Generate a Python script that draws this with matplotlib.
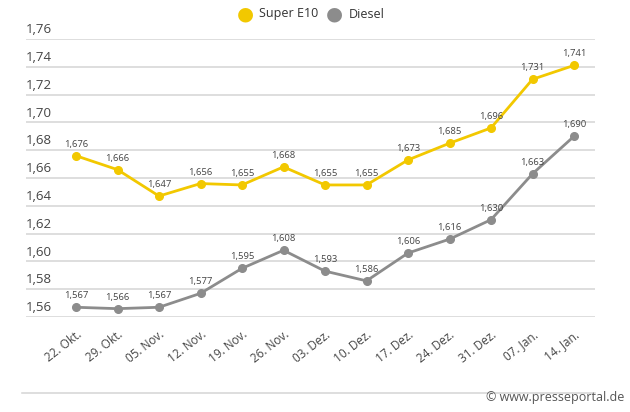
import matplotlib
matplotlib.use("Agg")
import matplotlib.pyplot as plt
from matplotlib.transforms import ScaledTranslation

plt.rcParams["font.family"] = ["Open Sans", "DejaVu Sans"]

DATES = ["22. Okt.", "29. Okt.", "05. Nov.", "12. Nov.", "19. Nov.", "26. Nov.",
         "03. Dez.", "10. Dez.", "17. Dez.", "24. Dez.", "31. Dez.", "07. Jan.", "14. Jan."]
SUPER_E10 = [1.676, 1.666, 1.647, 1.656, 1.655, 1.668, 1.655, 1.655, 1.673,
             1.685, 1.696, 1.731, 1.741]
DIESEL = [1.567, 1.566, 1.567, 1.577, 1.595, 1.608, 1.593, 1.586, 1.606,
          1.616, 1.630, 1.663, 1.690]
Y_TICKS = [1.56, 1.58, 1.60, 1.62, 1.64, 1.66, 1.68, 1.70, 1.72, 1.74, 1.76]

COL_E10 = "#F2C800"
COL_DIESEL = "#8C8C8C"
COL_GRID = "#D4D4D4"
COL_TEXT = "#444444"

W, H = 630, 412
fig = plt.figure(figsize=(W / 100, H / 100), dpi=100)
left, right, top, bottom = 26, 595, 39, 317
ax = fig.add_axes([left / W, (H - bottom) / H, (right - left) / W, (bottom - top) / H])

x = list(range(len(DATES)))
step = (574 - 76) / 12
ax.set_xlim(-(76 - left) / step, 12 + (right - 574) / step)
ax.set_ylim(1.56, 1.76)

for yv in Y_TICKS:
    ax.axhline(yv, color=COL_GRID, linewidth=1.1, zorder=1)
    ax.annotate(f"{yv:.2f}".replace(".", ","), xy=(0, yv), xycoords=("axes fraction", "data"),
                xytext=(0, 2), textcoords="offset points", ha="left", va="bottom",
                fontsize=9.5, color=COL_TEXT)

for vals, col in ((SUPER_E10, COL_E10), (DIESEL, COL_DIESEL)):
    ax.plot(x, vals, color=col, linewidth=2, marker="o", markersize=5.5,
            zorder=3, clip_on=False)
    for xi, v in zip(x, vals):
        ax.annotate(f"{v:.3f}".replace(".", ","), xy=(xi, v), xytext=(0, 5),
                    textcoords="offset points", ha="center", va="bottom",
                    fontsize=6.8, color=COL_TEXT, zorder=4)

ax.set_xticks(x)
ax.set_xticklabels(DATES, rotation=38, ha="right", va="top", rotation_mode="anchor",
                   fontsize=8.5, color=COL_TEXT)
shift = ScaledTranslation(3 / 100, 0, fig.dpi_scale_trans)
for lbl in ax.get_xticklabels():
    lbl.set_transform(lbl.get_transform() + shift)
ax.tick_params(axis="x", length=0, pad=8)
ax.set_yticks([])
for s in ax.spines.values():
    s.set_visible(False)

# legend
fig.text(245 / W, 1 - 14 / H, "\u25CF", color=COL_E10, fontsize=14, ha="center", va="center")
fig.text(259 / W, 1 - 14 / H, "Super E10", color="#333333", fontsize=9, ha="left", va="center")
fig.text(334 / W, 1 - 14 / H, "\u25CF", color=COL_DIESEL, fontsize=14, ha="center", va="center")
fig.text(349 / W, 1 - 14 / H, "Diesel", color="#333333", fontsize=9, ha="left", va="center")

# bottom rule and credit
fig.add_artist(plt.Line2D([22 / W, right / W], [1 - 393 / H, 1 - 393 / H],
                          color=COL_GRID, linewidth=1.1))
fig.text(624 / W, 1 - 398 / H, "\u00A9 www.presseportal.de", color="#555555",
         fontsize=9, ha="right", va="center")

fig.savefig("out.png", dpi=100)
